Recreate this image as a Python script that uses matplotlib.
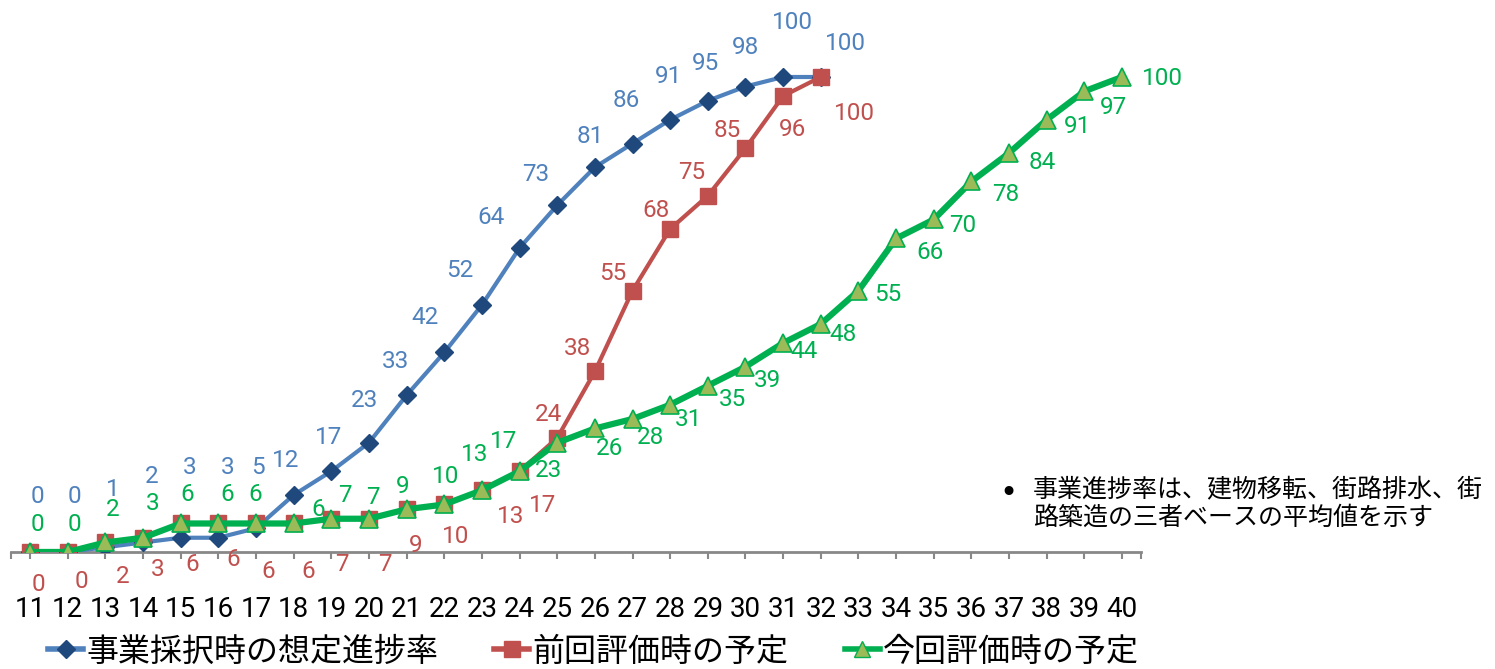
import matplotlib
matplotlib.use("Agg")
import matplotlib.pyplot as plt
from matplotlib.lines import Line2D

years = list(range(11, 41))
plan_initial = [0, 0, 1, 2, 3, 3, 5, 12, 17, 23, 33, 42, 52, 64, 73, 81, 86, 91, 95, 98, 100, 100]
plan_previous = [0, 0, 2, 3, 6, 6, 6, 6, 7, 7, 9, 10, 13, 17, 24, 38, 55, 68, 75, 85, 96, 100]
plan_current = [0, 0, 2, 3, 6, 6, 6, 6, 7, 7, 9, 10, 13, 17, 23, 26, 28, 31, 35, 39,
                44, 48, 55, 66, 70, 78, 84, 91, 97, 100]
series_names = ["事業採択時の想定進捗率", "前回評価時の予定", "今回評価時の予定"]
note = "事業進捗率は、建物移転、街路排水、街\n路築造の三者ベースの平均値を示す"

BLUE, NAVY = "#4F81BD", "#1F497D"
RED = "#C0504D"
GREEN, OLIVE = "#00B050", "#9BBB59"

# label offsets in pixels (dx, dy)
off_blue = [(7, 55), (7, 55), (7, 58), (9, 66), (9, 70), (9, 70), (2, 61), (-8, 34), (-3, 34),
            (-4, 42), (-11, 34), (-19, 35), (-22, 34), (-29, 30), (-22, 31), (-5, 31),
            (-6, 43), (-2, 43), (-2, 37), (0, 39), (9, 55), (25, 34)]
off_red = [(8, -33), (14, -30), (17, -34), (15, -32), (12, -41), (15, -36), (12, -48), (15, -48),
           (11, -46), (16, -46), (9, -36), (11, -32), (29, -26), (23, -34), (-9, 23),
           (-17, 23), (-20, 17), (-14, 18), (-16, 23), (-18, 18), (9, -33), (34, -36)]
off_green = [(7, 27), (7, 27), (7, 33), (10, 34), (7, 29), (9, 29), (-1, 29), (25, 14), (14, 23),
             (4, 21), (-4, 23), (1, 28), (-7, 36), (-16, 30), (-9, -28), (15, -20),
             (18, -19), (18, -15), (25, -14), (22, -14), (21, -9), (22, -11), (29, -4),
             (34, -14), (29, -6), (34, -13), (33, -9), (31, -7), (29, -16), (40, -1)]

plt.rcParams["font.family"] = ["Roboto", "DejaVu Sans"]

fig = plt.figure(figsize=(14.95, 6.69), dpi=100)
ax = fig.add_axes([0.0075, 0.1749, 0.7556, 0.8165])

ax.plot(years[:len(plan_initial)], plan_initial, color=BLUE, lw=3, marker="D", ms=9,
        mfc=NAVY, mec=NAVY, zorder=3)
ax.plot(years[:len(plan_previous)], plan_previous, color=RED, lw=3, marker="s", ms=12,
        mfc=RED, mec=RED, zorder=4)
ax.plot(years, plan_current, color=GREEN, lw=4.5, marker="^", ms=13,
        mfc=OLIVE, mec=GREEN, mew=1.2, zorder=5)

for vals, offs, col in [(plan_initial, off_blue, BLUE), (plan_previous, off_red, RED),
                        (plan_current, off_green, GREEN)]:
    for x, v, (dx, dy) in zip(years, vals, offs):
        ax.annotate(str(v), (x, v), xytext=(dx, dy), textcoords="offset pixels",
                    ha="center", va="center", color=col, fontsize=17.5)

ax.set_xlim(10.5, 40.5)
ax.set_ylim(0, 115)
ax.set_xticks([10.5] + years + [40.5])
ax.set_xticklabels([""] + [str(y) for y in years] + [""], fontsize=20, color="black")
ax.tick_params(axis="x", length=5, width=1.5, color="#888888", pad=27)
ax.set_yticks([])
for s in ["top", "right", "left"]:
    ax.spines[s].set_visible(False)
ax.spines["bottom"].set_color("#888888")
ax.spines["bottom"].set_linewidth(2)

handles = [
    Line2D([], [], color=BLUE, lw=4, marker="D", ms=9, mfc=NAVY, mec=NAVY),
    Line2D([], [], color=RED, lw=4, marker="s", ms=11, mfc=RED, mec=RED),
    Line2D([], [], color=GREEN, lw=4, marker="^", ms=12, mfc=OLIVE, mec=GREEN),
]
fig.legend(handles, series_names, loc="center", bbox_to_anchor=(0.397, 0.026), ncol=3,
           frameon=False, handlelength=1.1, handletextpad=0.1, columnspacing=1.75,
           borderpad=0.1, prop={"family": ["Noto Sans CJK JP", "DejaVu Sans"], "size": 23})

fig.text(0.6685, 0.262, "•", fontsize=22, family="DejaVu Sans", va="center", ha="left")
fig.text(0.691, 0.286, note, fontsize=18, family=["Noto Sans CJK JP", "DejaVu Sans"],
         va="top", ha="left", linespacing=1.05)

fig.savefig("out.png", dpi=100)
